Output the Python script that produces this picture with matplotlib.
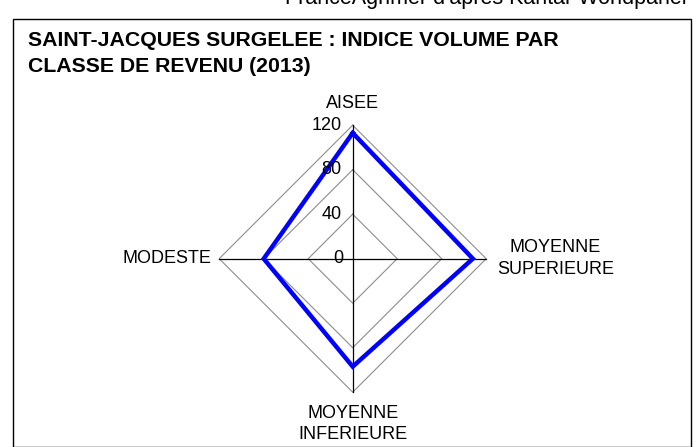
import numpy as np
import matplotlib
matplotlib.use("Agg")
import matplotlib.pyplot as plt
from matplotlib.patches import Rectangle

plt.rcParams['font.family'] = ['Liberation Sans', 'DejaVu Sans']

categories = ['AISEE', 'MOYENNE\nSUPERIEURE', 'MOYENNE\nINFERIEURE', 'MODESTE']
values = [113, 108, 97, 80]
rings = [40, 80, 120]
tick_labels = ['0', '40', '80', '120']

W, H = 699, 447
fig = plt.figure(figsize=(W / 100, H / 100), dpi=100)

# chart frame
fig.patches.append(Rectangle((12.7 / W, 0), (690.7 - 12.7) / W, 1 - 19 / H,
                             transform=fig.transFigure, fill=False,
                             edgecolor='black', linewidth=1.0))

fig.text(687 / W, 1 - 4 / H, "FranceAgrimer d'après Kantar Worldpanel",
         ha='right', va='baseline', fontsize=15.5)

fig.text(28 / W, 1 - 41 / H, 'SAINT-JACQUES SURGELEE : INDICE VOLUME PAR',
         ha='left', va='center', fontsize=15.3, fontweight='bold')
fig.text(28 / W, 1 - 66 / H, 'CLASSE DE REVENU (2013)',
         ha='left', va='center', fontsize=15.3, fontweight='bold')

cx, cy, R = 352.7, 258.7, 133.5
ax = fig.add_axes([(cx - R) / W, (H - cy - R) / H, 2 * R / W, 2 * R / H],
                  projection='polar')
ax.set_theta_offset(np.pi / 2)
ax.set_theta_direction(-1)
ax.set_ylim(0, 120)
ax.grid(False)
ax.spines['polar'].set_visible(False)
ax.set_xticks([])
ax.set_yticks([])
ax.patch.set_alpha(0)

n = len(categories)
theta = np.arange(n) * 2 * np.pi / n
tclosed = np.append(theta, theta[0])

for r in rings:
    ax.plot(tclosed, [r] * (n + 1), color='#8c8c8c', linewidth=0.8, clip_on=False)

for t in theta:
    ax.plot([t, t], [0, 120], color='black', linewidth=0.9, clip_on=False)

ax.plot(tclosed, values + [values[0]], color='#0000ff', linewidth=3.2,
        solid_joinstyle='miter', clip_on=False)

# radial tick labels along the top axis
px = 120 / R
for lab, r in zip(tick_labels, [0] + rings):
    ax.annotate(lab, xy=(0, r), xytext=(-11 if r else -9, 0),
                textcoords='offset pixels', ha='right', va='center',
                fontsize=13, annotation_clip=False)

# category labels
label_pos = [(0, 154.7 * px, 'center', 'center'),
             (np.pi / 2, 202.8 * px, 'center', 'center'),
             (np.pi, 165.3 * px, 'center', 'center'),
             (3 * np.pi / 2, 141.7 * px, 'right', 'center')]
for name, (t, r, ha, va) in zip(categories, label_pos):
    ax.text(t, r, name, ha=ha, va=va, fontsize=13, linespacing=1.35,
            clip_on=False)

fig.savefig('out.png', dpi=100)
